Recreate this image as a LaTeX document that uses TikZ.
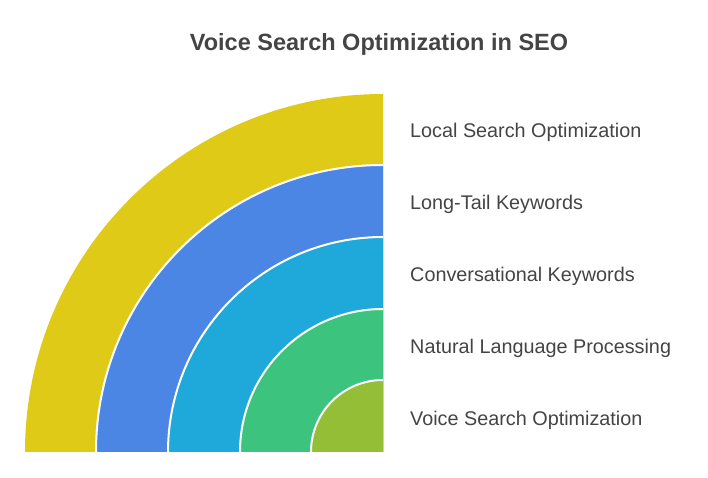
\documentclass[tikz,border=0pt]{standalone}
\usepackage{fontspec}
\setmainfont{Liberation Sans}
\definecolor{ringyellow}{HTML}{DFCB17}
\definecolor{ringblue}{HTML}{4C86E4}
\definecolor{ringcyan}{HTML}{1FA9DB}
\definecolor{ringgreen}{HTML}{3CC47F}
\definecolor{ringolive}{HTML}{93BE35}
\definecolor{textgray}{HTML}{444444}
\begin{document}
\begin{tikzpicture}[x=1pt, y=1pt,
		ring/.style = {draw=white, line width=2pt},
		label/.style = {anchor=west, text=textgray, font=\fontsize{19.8}{22}\selectfont, inner sep=0pt},
		title/.style = {text=textgray, font=\fontsize{23.5}{26}\selectfont\bfseries}]
		\useasboundingbox (0,0) rectangle (708,478);
		\coordinate (c) at (383,26);
		
		% rings, outermost first
		\fill[ringyellow] (c) -- ++(-358,0) arc[start angle=180, end angle=90, radius=358] -- cycle;
		\fill[ringblue] (c) -- ++(-287,0) arc[start angle=180, end angle=90, radius=287] -- cycle;
		\fill[ringcyan] (c) -- ++(-215,0) arc[start angle=180, end angle=90, radius=215] -- cycle;
		\fill[ringgreen] (c) -- ++(-143,0) arc[start angle=180, end angle=90, radius=143] -- cycle;
		\fill[ringolive] (c) -- ++(-72,0) arc[start angle=180, end angle=90, radius=72] -- cycle;
		
		% white separators
		\draw[ring] (c) ++(-287,0) arc[start angle=180, end angle=90, radius=287];
		\draw[ring] (c) ++(-215,0) arc[start angle=180, end angle=90, radius=215];
		\draw[ring] (c) ++(-143,0) arc[start angle=180, end angle=90, radius=143];
		\draw[ring] (c) ++(-72,0) arc[start angle=180, end angle=90, radius=72];
		
		\node[title] (t) at (379,434) {Voice Search Optimization in SEO};
		
		\node[label] (l1) at (410,346) {Local Search Optimization};
		\node[label] (l2) at (410,274) {Long-Tail Keywords};
		\node[label] (l3) at (410,202) {Conversational Keywords};
		\node[label] (l4) at (410,130) {Natural Language Processing};
		\node[label] (l5) at (410,58) {Voice Search Optimization};
	\end{tikzpicture}
\end{document}
